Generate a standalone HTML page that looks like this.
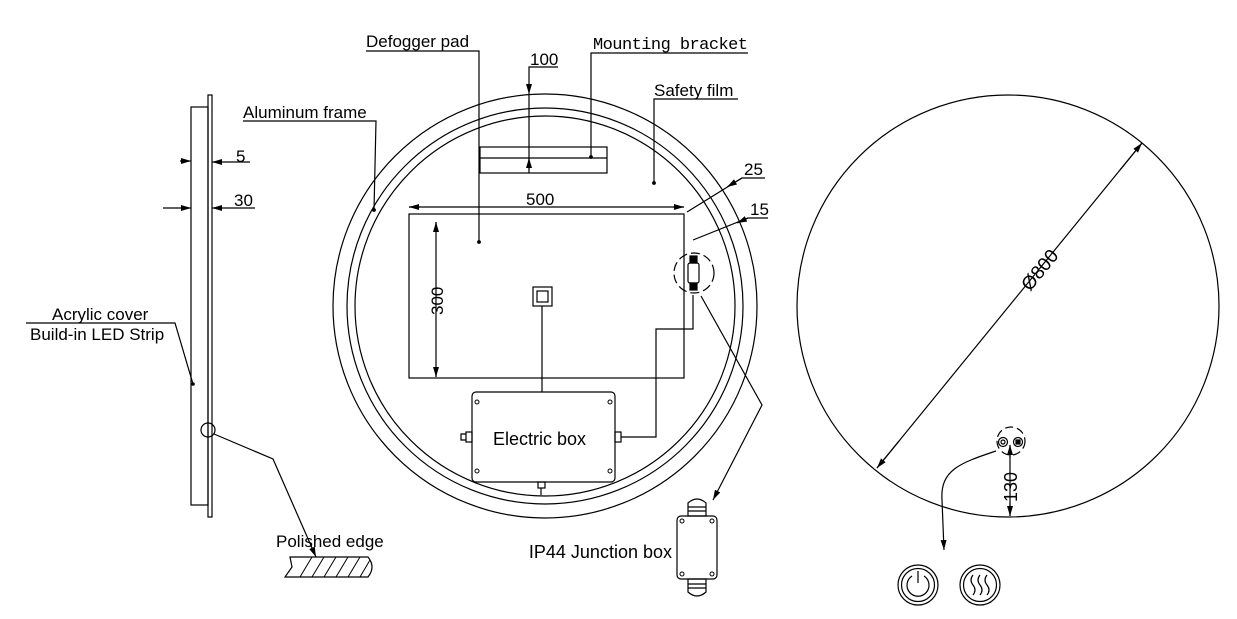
<!DOCTYPE html>
<html><head><meta charset="utf-8"><style>html,body{margin:0;padding:0;background:#fff}svg{display:block}text{font-family:"Liberation Sans",sans-serif;font-size:17px;fill:#000}</style></head>
<body>
<svg width="1237" height="619" viewBox="0 0 1237 619" xmlns="http://www.w3.org/2000/svg">
<defs>
<marker id="a" viewBox="0 0 10 6" refX="10" refY="3" markerWidth="10" markerHeight="6" orient="auto" markerUnits="userSpaceOnUse"><path d="M0,0 L10,3 L0,6 z" fill="#000"/></marker>
</defs>
<g fill="none" stroke="#000" stroke-width="1.2">
<rect x="208" y="95" width="4" height="422"/>
<rect x="191" y="107" width="17" height="398"/>
<line x1="180" y1="161" x2="191" y2="161" marker-end="url(#a)"/>
<line x1="250" y1="162" x2="212" y2="162" marker-end="url(#a)"/>
<line x1="163" y1="208" x2="191" y2="208" marker-end="url(#a)"/>
<line x1="255" y1="208" x2="212" y2="208" marker-end="url(#a)"/>
<polyline points="26,323 175,323 193,384"/>
<circle cx="193" cy="384" r="1.2" fill="#000"/>
<circle cx="208" cy="430" r="7"/>
<polyline points="214,434 273,459 316,557" marker-end="url(#a)"/>
<path d="M290,557 L368,557 Q376,567 368,577 L285,577 L292,567 Z"/>
<g stroke-width="1"><line x1="300" y1="577" x2="312" y2="557"/><line x1="312" y1="577" x2="324" y2="557"/><line x1="324" y1="577" x2="336" y2="557"/><line x1="336" y1="577" x2="348" y2="557"/><line x1="348" y1="577" x2="360" y2="557"/><line x1="360" y1="577" x2="370" y2="560"/></g>
<circle cx="545" cy="306" r="212"/>
<circle cx="545" cy="306" r="198"/>
<circle cx="545" cy="306" r="190"/>
<polyline points="243,121 376,121 374,210"/>
<circle cx="374" cy="210" r="1.3" fill="#000"/>
<polyline points="366,51 479,51 479,242"/>
<circle cx="479" cy="242" r="1.3" fill="#000"/>
<polyline points="748,53 591,53 591,157"/>
<circle cx="591" cy="157" r="1.3" fill="#000"/>
<polyline points="558,67 529,67 529,94" marker-end="url(#a)"/>
<line x1="529" y1="94" x2="529" y2="173"/>
<line x1="529" y1="170" x2="529" y2="158" marker-end="url(#a)"/>
<rect x="480" y="147" width="127" height="26"/>
<line x1="480" y1="158" x2="607" y2="158"/>
<polyline points="738,99 654,99 654,183"/>
<circle cx="654" cy="183" r="1.3" fill="#000"/>
<polyline points="765,178 742,178 687,212"/>
<line x1="742" y1="178" x2="727" y2="187" marker-end="url(#a)"/>
<polyline points="768,218 748,218 693,240"/>
<line x1="748" y1="218" x2="737" y2="223" marker-end="url(#a)"/>
<rect x="409" y="214" width="275" height="164"/>
<line x1="409" y1="207" x2="684" y2="207"/>
<line x1="420" y1="207" x2="409" y2="207" marker-end="url(#a)"/>
<line x1="673" y1="207" x2="684" y2="207" marker-end="url(#a)"/>
<line x1="436" y1="222" x2="436" y2="377"/>
<line x1="436" y1="232" x2="436" y2="222" marker-end="url(#a)"/>
<line x1="436" y1="367" x2="436" y2="377" marker-end="url(#a)"/>
<rect x="533" y="287" width="19" height="19"/>
<rect x="537" y="291" width="11" height="11"/>
<line x1="542" y1="306" x2="542" y2="392"/>
<rect x="472" y="392" width="143" height="90" rx="4"/>
<g stroke-width="1"><circle cx="477" cy="402" r="2"/><circle cx="610" cy="402" r="2"/><circle cx="477" cy="471" r="2"/><circle cx="610" cy="471" r="2"/></g>
<rect x="466" y="432" width="6" height="10"/>
<polyline points="466,434 461,434 461,440 466,440"/>
<rect x="615" y="432" width="6" height="10"/>
<rect x="538" y="482" width="7" height="6"/>
<line x1="541" y1="488" x2="541" y2="495"/>
<polyline points="621,437 656,437 656,329 693,329 693,295"/>
<circle cx="694" cy="273" r="20" stroke-dasharray="9,4"/>
<rect x="688" y="263" width="11" height="20" rx="2"/>
<rect x="690" y="256" width="7" height="7" fill="#000"/>
<rect x="690" y="283" width="7" height="7" fill="#000"/>
<polyline points="701,296 762,405 713,500" marker-end="url(#a)"/>
<rect x="677" y="516" width="40" height="63" rx="4"/>
<g stroke-width="1"><circle cx="682" cy="521" r="2"/><circle cx="712" cy="521" r="2"/><circle cx="682" cy="574" r="2"/><circle cx="712" cy="574" r="2"/></g>
<path d="M688,516 L688,503 Q697,495 706,503 L706,516 Z"/>
<line x1="688" y1="507" x2="706" y2="507"/><line x1="688" y1="511" x2="706" y2="511"/>
<path d="M688,579 L688,592 Q697,600 706,592 L706,579 Z"/>
<line x1="688" y1="584" x2="706" y2="584"/><line x1="688" y1="588" x2="706" y2="588"/>
<circle cx="1008" cy="306" r="211"/>
<line x1="877" y1="468" x2="1142" y2="143"/>
<line x1="1120" y1="170" x2="1142" y2="143" marker-end="url(#a)"/>
<line x1="899" y1="441" x2="877" y2="468" marker-end="url(#a)"/>
<circle cx="1011" cy="441" r="14" stroke-dasharray="8,4"/>
<circle cx="1003" cy="442" r="4.5"/><circle cx="1003" cy="442" r="2"/>
<circle cx="1018" cy="442" r="4.5"/><rect x="1016" y="440" width="4" height="4" fill="#000"/>
<line x1="1010" y1="445" x2="1010" y2="516"/>
<line x1="1010" y1="458" x2="1010" y2="445" marker-end="url(#a)"/>
<line x1="1010" y1="503" x2="1010" y2="516" marker-end="url(#a)"/>
<path d="M996,451 C960,463 940,470 942,500 L944,550" marker-end="url(#a)"/>
<circle cx="918" cy="585" r="20"/><circle cx="918" cy="585" r="16.5"/>
<path d="M912,576 A11,11 0 1 0 924,576"/><line x1="918" y1="571" x2="918" y2="583"/>
<circle cx="980" cy="585" r="20"/><circle cx="980" cy="585" r="16.5"/>
<path d="M973,575 q-4,5 0,10 q4,5 0,10 M980,575 q-4,5 0,10 q4,5 0,10 M987,575 q-4,5 0,10 q4,5 0,10"/>
</g>
<text x="236" y="162">5</text>
<text x="234" y="206">30</text>
<text x="52" y="320">Acrylic cover</text>
<text x="30" y="340">Build-in LED Strip</text>
<text x="276" y="547">Polished edge</text>
<text x="243" y="118">Aluminum frame</text>
<text x="366" y="47">Defogger pad</text>
<text x="593" y="49" style="font-family:'Liberation Mono',monospace;font-size:17px" textLength="155">Mounting bracket</text>
<text x="530" y="65">100</text>
<text x="654" y="96">Safety film</text>
<text x="744" y="175">25</text>
<text x="750" y="215">15</text>
<text x="526" y="205">500</text>
<text transform="translate(443,315) rotate(-90)">300</text>
<text x="493" y="445" style="font-size:18px">Electric box</text>
<text x="672" y="558" text-anchor="end" style="font-size:18px">IP44 Junction box</text>
<text transform="translate(1030,292) rotate(-50.8)" style="font-size:19px">Ø800</text>
<text transform="translate(1017,502) rotate(-90)" style="font-size:18px">130</text>
</svg>
</body></html>
